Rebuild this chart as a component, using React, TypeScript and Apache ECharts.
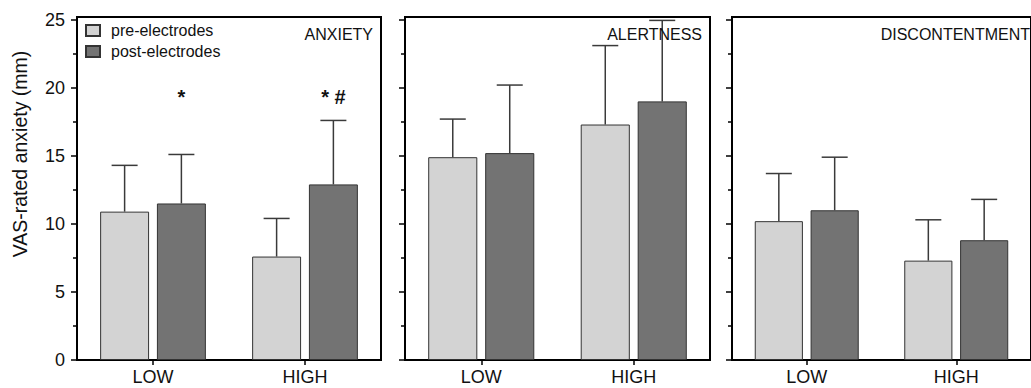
import React, { useEffect, useRef } from 'react';
import * as echarts from 'echarts';

const categories = ['LOW', 'HIGH'];
const panelTitles = ['ANXIETY', 'ALERTNESS', 'DISCONTENTMENT'];
const seriesNames = ['pre-electrodes', 'post-electrodes'];
const yTickValues = [0, 5, 10, 15, 20, 25];
const yMinorTickValues = [2.5, 7.5, 12.5, 17.5, 22.5];
const yAxisName = 'VAS-rated anxiety (mm)';

const anxietyPre = [10.9, 7.6];
const anxietyPost = [11.5, 12.9];
const anxietyPreErr = [3.4, 2.8];
const anxietyPostErr = [3.6, 4.7];

const alertnessPre = [14.9, 17.3];
const alertnessPost = [15.2, 19.0];
const alertnessPreErr = [2.8, 5.8];
const alertnessPostErr = [5.0, 5.95];

const discontentPre = [10.2, 7.3];
const discontentPost = [11.0, 8.8];
const discontentPreErr = [3.5, 3.0];
const discontentPostErr = [3.9, 3.0];

// significance marks above the post-electrodes bars (ANXIETY panel)
const anxietyMarks = ['*', '* #'];

const panels = [
  { pre: anxietyPre, post: anxietyPost, preErr: anxietyPreErr, postErr: anxietyPostErr },
  { pre: alertnessPre, post: alertnessPost, preErr: alertnessPreErr, postErr: alertnessPostErr },
  { pre: discontentPre, post: discontentPost, preErr: discontentPreErr, postErr: discontentPostErr },
];

const PANEL_LEFT = [77, 405, 732];
const PANEL_WIDTH = [304, 305, 305];
const PANEL_TOP = 17;
const PANEL_HEIGHT = 343;
const Y_MAX = 25.2;
const BAR_FRAC = 0.322;
const GAP_FRAC = 0.16;
const MARK_Y = 19.3;
const PRE_COLOR = '#d3d3d3';
const POST_COLOR = '#737373';
const FONT = '"Liberation Sans", Arial, Helvetica, sans-serif';

function barOffset(api: any, s: number) {
  const band = api.size([1, 0])[0];
  const w = band * BAR_FRAC;
  const g = w * GAP_FRAC;
  return (s === 0 ? -1 : 1) * (w + g) / 2;
}

export default function App() {
  const ref = useRef<HTMLDivElement>(null);

  useEffect(() => {
    document.body.style.margin = '0';
    document.body.style.overflow = 'hidden';
    if (!ref.current) return;
    const chart = echarts.init(ref.current, null, { renderer: 'svg' });

    const grid: any[] = [];
    const xAxis: any[] = [];
    const yAxis: any[] = [];
    const series: any[] = [];

    panels.forEach((p, i) => {
      grid.push({
        left: PANEL_LEFT[i],
        top: PANEL_TOP,
        width: PANEL_WIDTH[i],
        height: PANEL_HEIGHT,
        show: true,
        borderColor: '#000',
        borderWidth: 2,
        backgroundColor: 'transparent',
      });
      xAxis.push({
        type: 'category',
        gridIndex: i,
        data: categories,
        boundaryGap: true,
        axisLine: { show: true, lineStyle: { color: '#000', width: 2 } },
        axisTick: { show: true, alignWithLabel: true, length: 5, lineStyle: { color: '#000', width: 1.5 } },
        axisLabel: { fontSize: 18, color: '#111', margin: 8, fontFamily: FONT },
        splitLine: { show: false },
      });
      yAxis.push({
        type: 'value',
        gridIndex: i,
        min: 0,
        max: Y_MAX,
        axisLine: { show: true, lineStyle: { color: '#000', width: 2 } },
        axisTick: { show: true, length: 6, customValues: yTickValues, lineStyle: { color: '#000', width: 1.5 } },
        axisLabel: {
          show: i === 0,
          customValues: yTickValues,
          fontSize: 18,
          color: '#111',
          margin: 12,
          fontFamily: FONT,
        },
        splitLine: { show: false },
      });
      yAxis.push({
        type: 'value',
        gridIndex: i,
        min: 0,
        max: Y_MAX,
        position: 'left',
        axisLine: { show: false },
        axisTick: { show: true, length: 4, customValues: yMinorTickValues, lineStyle: { color: '#000', width: 1.5 } },
        axisLabel: { show: false },
        splitLine: { show: false },
      });

      const yIdx = i * 2;
      series.push({
        type: 'bar',
        name: seriesNames[0],
        xAxisIndex: i,
        yAxisIndex: yIdx,
        data: p.pre,
        barWidth: (BAR_FRAC * 100).toFixed(1) + '%',
        barGap: (GAP_FRAC * 100) + '%',
        itemStyle: { color: PRE_COLOR, borderColor: '#333', borderWidth: 1 },
        z: 2,
      });
      series.push({
        type: 'bar',
        name: seriesNames[1],
        xAxisIndex: i,
        yAxisIndex: yIdx,
        data: p.post,
        barWidth: (BAR_FRAC * 100).toFixed(1) + '%',
        barGap: (GAP_FRAC * 100) + '%',
        itemStyle: { color: POST_COLOR, borderColor: '#333', borderWidth: 1 },
        z: 2,
      });

      const errData: number[][] = [];
      categories.forEach((_, c) => {
        errData.push([c, p.pre[c], p.preErr[c], 0]);
        errData.push([c, p.post[c], p.postErr[c], 1]);
      });
      series.push({
        type: 'custom',
        name: 'err' + i,
        xAxisIndex: i,
        yAxisIndex: yIdx,
        data: errData,
        encode: { x: 0, y: 1 },
        z: 3,
        silent: true,
        renderItem: (params: any, api: any) => {
          const c = api.value(0);
          const m = api.value(1);
          const e = api.value(2);
          const s = api.value(3);
          const b = api.coord([c, m]);
          const t = api.coord([c, m + e]);
          const x = b[0] + barOffset(api, s);
          const st = { stroke: '#3a3a3a', lineWidth: 1.5 };
          return {
            type: 'group',
            children: [
              { type: 'line', shape: { x1: x, y1: b[1], x2: x, y2: t[1] }, style: st },
              { type: 'line', shape: { x1: x - 13, y1: t[1], x2: x + 13, y2: t[1] }, style: st },
            ],
          };
        },
      });

      if (i === 0) {
        series.push({
          type: 'custom',
          name: 'marks',
          xAxisIndex: 0,
          yAxisIndex: 0,
          data: anxietyMarks.map((mk, c) => [c, MARK_Y, mk]),
          encode: { x: 0, y: 1 },
          z: 4,
          silent: true,
          renderItem: (params: any, api: any) => {
            const c = api.value(0);
            const pt = api.coord([c, api.value(1)]);
            const x = pt[0] + barOffset(api, 1);
            return {
              type: 'text',
              x,
              y: pt[1],
              style: {
                text: anxietyMarks[params.dataIndex],
                fontSize: 20,
                fontWeight: 'bold',
                fontFamily: FONT,
                fill: '#111',
                textAlign: 'center',
                textVerticalAlign: 'middle',
              },
            };
          },
        });
      }
    });

    const titleRight = [373, 702, 1030];
    const graphic: any[] = panelTitles.map((t, i) => ({
      type: 'text',
      x: titleRight[i],
      y: 34,
      style: {
        text: t,
        fontSize: 16,
        fontFamily: FONT,
        fill: '#111',
        textAlign: 'right',
        textVerticalAlign: 'middle',
      },
      z: 10,
    }));
    graphic.push({
      type: 'text',
      x: 20,
      y: 154,
      rotation: Math.PI / 2,
      style: {
        text: yAxisName,
        fontSize: 19.5,
        fontFamily: FONT,
        fill: '#111',
        textAlign: 'center',
        textVerticalAlign: 'middle',
      },
    });

    chart.setOption({
      animation: false,
      backgroundColor: '#fff',
      textStyle: { fontFamily: FONT },
      grid,
      xAxis,
      yAxis,
      series,
      graphic,
      legend: {
        data: seriesNames,
        orient: 'vertical',
        left: 85,
        top: 22.5,
        padding: 0,
        itemWidth: 14,
        itemHeight: 11,
        itemGap: 5,
        icon: 'rect',
        selectedMode: false,
        textStyle: { fontSize: 16, color: '#111', fontFamily: FONT, padding: [0, 0, 0, 6] },
      },
    });

    return () => chart.dispose();
  }, []);

  return <div ref={ref} style={{ width: 1031, height: 388 }} />;
}
